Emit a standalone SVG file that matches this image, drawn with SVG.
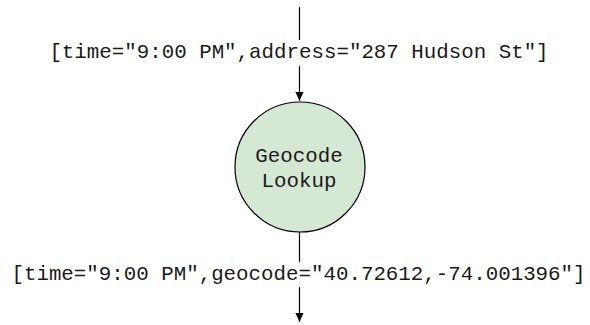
<svg xmlns="http://www.w3.org/2000/svg" width="590" height="325" viewBox="0 0 590 325">
  <defs>
    <marker id="arrow" markerWidth="10" markerHeight="10" refX="9" refY="5" orient="auto" markerUnits="userSpaceOnUse">
      <path d="M0,1 L9,5 L0,9 Z" fill="#000"/>
    </marker>
    <style>
      .lbl { font-family: "Liberation Mono", "Courier New", monospace; font-size: 20.8px; fill: #1a1a1a; }
      .edge { stroke: #000; stroke-width: 1.2; fill: none; }
    </style>
  </defs>
  <rect width="590" height="325" fill="#fff"/>
  <g id="connectors">
    <line class="edge" x1="299.5" y1="7" x2="299.5" y2="40"/>
    <line class="edge" x1="299.5" y1="66" x2="299.5" y2="101" marker-end="url(#arrow)"/>
    <line class="edge" x1="299.5" y1="232" x2="299.5" y2="262"/>
    <line class="edge" x1="299.5" y1="287" x2="299.5" y2="322" marker-end="url(#arrow)"/>
    <text class="lbl" x="299" y="58" text-anchor="middle">[time="9:00 PM",address="287 Hudson St"]</text>
    <text class="lbl" x="298.5" y="280" text-anchor="middle">[time="9:00 PM",geocode="40.72612,-74.001396"]</text>
  </g>
  <g id="geocode-lookup">
    <circle cx="300" cy="167" r="65" fill="#d5e8d4" stroke="#000" stroke-width="1.2"/>
    <text class="lbl" x="299" y="162" text-anchor="middle">Geocode</text>
    <text class="lbl" x="299" y="187" text-anchor="middle">Lookup</text>
  </g>
</svg>
